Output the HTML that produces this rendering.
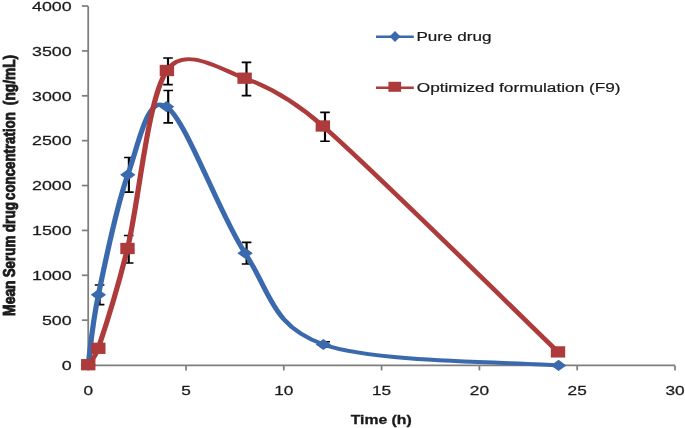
<!DOCTYPE html>
<html><head><meta charset="utf-8"><style>
html,body{margin:0;padding:0;background:#fff;}
body{width:685px;height:428px;overflow:hidden;font-family:"Liberation Sans",sans-serif;}
svg{display:block;will-change:transform;}
</style></head><body>
<svg width="685" height="428" viewBox="0 0 685 428">
<rect width="685" height="428" fill="#fff"/>
<g stroke="#7f7f7f" stroke-width="1.75" fill="none"><path d="M88.20,6.25 V365.40 H675.00"/><path d="M81.90,365.05 H88.20"/><path d="M81.90,320.18 H88.20"/><path d="M81.90,275.30 H88.20"/><path d="M81.90,230.43 H88.20"/><path d="M81.90,185.55 H88.20"/><path d="M81.90,140.68 H88.20"/><path d="M81.90,95.80 H88.20"/><path d="M81.90,50.93 H88.20"/><path d="M81.90,6.05 H88.20"/><path d="M88.20,365.40 V370.40"/><path d="M186.00,365.40 V370.40"/><path d="M283.80,365.40 V370.40"/><path d="M381.60,365.40 V370.40"/><path d="M479.40,365.40 V370.40"/><path d="M577.20,365.40 V370.40"/><path d="M675.00,365.40 V370.40"/></g>
<text font-family="'Liberation Sans', sans-serif" font-size="13.60" fill="#1a1a1a" stroke="#1a1a1a" stroke-width="0.25" text-anchor="end" transform="translate(71.60,369.85) scale(1.310,1.000)">0</text>
<text font-family="'Liberation Sans', sans-serif" font-size="13.60" fill="#1a1a1a" stroke="#1a1a1a" stroke-width="0.25" text-anchor="end" transform="translate(71.60,324.98) scale(1.310,1.000)">500</text>
<text font-family="'Liberation Sans', sans-serif" font-size="13.60" fill="#1a1a1a" stroke="#1a1a1a" stroke-width="0.25" text-anchor="end" transform="translate(71.60,280.10) scale(1.310,1.000)">1000</text>
<text font-family="'Liberation Sans', sans-serif" font-size="13.60" fill="#1a1a1a" stroke="#1a1a1a" stroke-width="0.25" text-anchor="end" transform="translate(71.60,235.23) scale(1.310,1.000)">1500</text>
<text font-family="'Liberation Sans', sans-serif" font-size="13.60" fill="#1a1a1a" stroke="#1a1a1a" stroke-width="0.25" text-anchor="end" transform="translate(71.60,190.35) scale(1.310,1.000)">2000</text>
<text font-family="'Liberation Sans', sans-serif" font-size="13.60" fill="#1a1a1a" stroke="#1a1a1a" stroke-width="0.25" text-anchor="end" transform="translate(71.60,145.48) scale(1.310,1.000)">2500</text>
<text font-family="'Liberation Sans', sans-serif" font-size="13.60" fill="#1a1a1a" stroke="#1a1a1a" stroke-width="0.25" text-anchor="end" transform="translate(71.60,100.60) scale(1.310,1.000)">3000</text>
<text font-family="'Liberation Sans', sans-serif" font-size="13.60" fill="#1a1a1a" stroke="#1a1a1a" stroke-width="0.25" text-anchor="end" transform="translate(71.60,55.73) scale(1.310,1.000)">3500</text>
<text font-family="'Liberation Sans', sans-serif" font-size="13.60" fill="#1a1a1a" stroke="#1a1a1a" stroke-width="0.25" text-anchor="end" transform="translate(71.60,10.85) scale(1.310,1.000)">4000</text>
<text font-family="'Liberation Sans', sans-serif" font-size="13.60" fill="#1a1a1a" stroke="#1a1a1a" stroke-width="0.25" text-anchor="middle" transform="translate(88.20,394.60) scale(1.270,1.000)">0</text>
<text font-family="'Liberation Sans', sans-serif" font-size="13.60" fill="#1a1a1a" stroke="#1a1a1a" stroke-width="0.25" text-anchor="middle" transform="translate(186.00,394.60) scale(1.270,1.000)">5</text>
<text font-family="'Liberation Sans', sans-serif" font-size="13.60" fill="#1a1a1a" stroke="#1a1a1a" stroke-width="0.25" text-anchor="middle" transform="translate(283.80,394.60) scale(1.270,1.000)">10</text>
<text font-family="'Liberation Sans', sans-serif" font-size="13.60" fill="#1a1a1a" stroke="#1a1a1a" stroke-width="0.25" text-anchor="middle" transform="translate(381.60,394.60) scale(1.270,1.000)">15</text>
<text font-family="'Liberation Sans', sans-serif" font-size="13.60" fill="#1a1a1a" stroke="#1a1a1a" stroke-width="0.25" text-anchor="middle" transform="translate(479.40,394.60) scale(1.270,1.000)">20</text>
<text font-family="'Liberation Sans', sans-serif" font-size="13.60" fill="#1a1a1a" stroke="#1a1a1a" stroke-width="0.25" text-anchor="middle" transform="translate(577.20,394.60) scale(1.270,1.000)">25</text>
<text font-family="'Liberation Sans', sans-serif" font-size="13.60" fill="#1a1a1a" stroke="#1a1a1a" stroke-width="0.25" text-anchor="middle" transform="translate(675.00,394.60) scale(1.270,1.000)">30</text>
<text font-family="'Liberation Sans', sans-serif" font-size="13.30" font-weight="bold" fill="#1a1a1a" stroke="#1a1a1a" stroke-width="0.30" text-anchor="start" transform="translate(350.72,424.30) scale(1.186,1.000)">Time (h)</text>
<text font-family="'Liberation Sans', sans-serif" font-size="13.00" font-weight="bold" fill="#1a1a1a" stroke="#1a1a1a" stroke-width="0.70" text-anchor="start" transform="translate(15.00,315.93) rotate(-90) scale(1.071,1.220)">Mean</text>
<text font-family="'Liberation Sans', sans-serif" font-size="13.00" font-weight="bold" fill="#1a1a1a" stroke="#1a1a1a" stroke-width="0.70" text-anchor="start" transform="translate(15.00,277.29) rotate(-90) scale(1.029,1.220)">Serum</text>
<text font-family="'Liberation Sans', sans-serif" font-size="13.00" font-weight="bold" fill="#1a1a1a" stroke="#1a1a1a" stroke-width="0.70" text-anchor="start" transform="translate(15.00,232.15) rotate(-90) scale(1.041,1.220)">drug</text>
<text font-family="'Liberation Sans', sans-serif" font-size="13.00" font-weight="bold" fill="#1a1a1a" stroke="#1a1a1a" stroke-width="0.70" text-anchor="start" transform="translate(15.00,199.92) rotate(-90) scale(1.022,1.220)">concentration</text>
<text font-family="'Liberation Sans', sans-serif" font-size="13.00" font-weight="bold" fill="#1a1a1a" stroke="#1a1a1a" stroke-width="0.70" text-anchor="start" transform="translate(15.00,105.18) rotate(-90) scale(1.057,1.220)">(ng/mL)</text>
<path d="M376,36.65 H413.8" stroke="#3a69ad" stroke-width="2.45"/>
<g fill="#3a69ad"><path d="M389.50,36.40 L395.00,30.90 L400.50,36.40 L395.00,41.90 Z"/></g>
<path d="M376,87.7 H413.8" stroke="#ae3b3b" stroke-width="2.45"/>
<rect x="388.4" y="81.8" width="12.7" height="10" fill="#ae3b3b"/>
<text font-family="'Liberation Sans', sans-serif" font-size="12.85" fill="#1a1a1a" stroke="#1a1a1a" stroke-width="0.20" text-anchor="start" transform="translate(416.40,41.00) scale(1.329,1.000)">Pure drug</text>
<text font-family="'Liberation Sans', sans-serif" font-size="12.85" fill="#1a1a1a" stroke="#1a1a1a" stroke-width="0.20" text-anchor="start" transform="translate(416.78,91.80) scale(1.340,1.000)">Optimized formulation (F9)</text>
<g transform="scale(1.35,1)" stroke="#000" stroke-width="1.6" fill="none"><path d="M 73.778,284.93 L 73.778,304.67 M 70.222,284.93 L 77.333,284.93 M 70.222,304.67 L 77.333,304.67 M 95.481,157.48 L 95.481,192.12 M 91.926,157.48 L 99.037,157.48 M 91.926,192.12 L 99.037,192.12 M 124.593,90.55 L 124.593,122.86 M 121.037,90.55 L 128.148,90.55 M 121.037,122.86 L 128.148,122.86 M 182.667,242.34 L 182.667,264.06 M 179.111,242.34 L 186.222,242.34 M 179.111,264.06 L 186.222,264.06 M 240.889,341.81 L 240.889,347.19 M 237.333,341.81 L 244.444,341.81 M 237.333,347.19 L 244.444,347.19"/></g>
<g transform="scale(1.35,1)"><path d="M 65.333,365.00 C 66.593,353.30 68.000,326.50 72.889,294.80 C 77.778,263.10 86.244,206.15 94.667,174.80 C 103.089,143.45 108.926,93.63 123.407,106.70 C 137.889,119.77 162.200,213.57 181.556,253.20 C 200.911,292.83 200.852,325.80 239.556,344.50 C 278.259,363.20 384.741,361.92 413.778,365.40" stroke="#3a69ad" stroke-width="3.9" fill="none" stroke-linejoin="round"/></g>
<g fill="#3a69ad"><path d="M80.50,365.00 L88.20,359.40 L95.90,365.00 L88.20,370.60 Z"/><path d="M90.70,294.80 L98.40,289.20 L106.10,294.80 L98.40,300.40 Z"/><path d="M120.10,174.80 L127.80,169.20 L135.50,174.80 L127.80,180.40 Z"/><path d="M158.90,106.70 L166.60,101.10 L174.30,106.70 L166.60,112.30 Z"/><path d="M237.40,253.20 L245.10,247.60 L252.80,253.20 L245.10,258.80 Z"/><path d="M315.70,344.50 L323.40,338.90 L331.10,344.50 L323.40,350.10 Z"/><path d="M550.90,365.40 L558.60,359.80 L566.30,365.40 L558.60,371.00 Z"/></g>
<g transform="scale(1.35,1)" stroke="#000" stroke-width="1.6" fill="none"><path d="M 95.333,235.57 L 95.333,263.03 M 91.778,235.57 L 98.889,235.57 M 91.778,263.03 L 98.889,263.03 M 124.444,58.02 L 124.444,84.58 M 120.889,58.02 L 128.000,58.02 M 120.889,84.58 L 128.000,84.58 M 182.593,62.40 L 182.593,95.60 M 179.037,62.40 L 186.148,62.40 M 179.037,95.60 L 186.148,95.60 M 240.741,112.35 L 240.741,141.25 M 237.185,112.35 L 244.296,112.35 M 237.185,141.25 L 244.296,141.25"/></g>
<g transform="scale(1.35,1)"><path d="M 65.370,364.70 C 65.933,363.47 70.630,357.04 72.815,348.30 C 77.659,328.93 85.978,294.80 94.444,248.50 C 102.911,202.20 109.170,98.88 123.630,70.50 C 136.807,44.63 163.637,69.77 181.185,78.20 C 193.274,84.01 214.852,97.35 239.148,126.00 C 277.837,171.62 384.304,314.25 413.333,351.90" stroke="#ae3b3b" stroke-width="3.9" fill="none" stroke-linejoin="round"/></g>
<g fill="#ae3b3b"><rect x="81.05" y="359.05" width="14.40" height="11.30"/><rect x="91.10" y="342.65" width="14.40" height="11.30"/><rect x="120.30" y="242.85" width="14.40" height="11.30"/><rect x="159.70" y="64.85" width="14.40" height="11.30"/><rect x="237.40" y="72.55" width="14.40" height="11.30"/><rect x="315.65" y="120.35" width="14.40" height="11.30"/><rect x="550.80" y="346.25" width="14.40" height="11.30"/></g>
</svg>
</body></html>
